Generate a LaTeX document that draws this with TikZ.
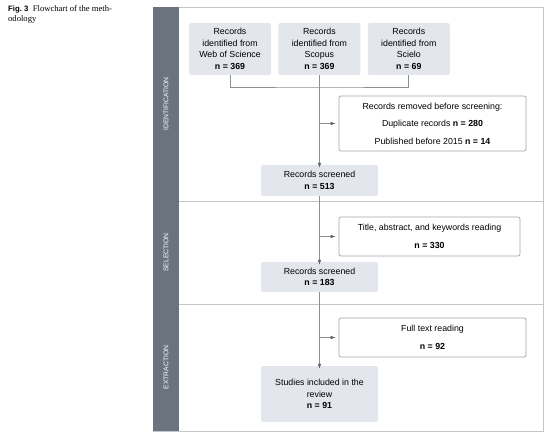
\documentclass[tikz,border=0pt]{standalone}
\usepackage{fontspec}
\setmainfont{Liberation Serif}
\setsansfont{Liberation Sans}
\usepackage{tikz}
\usetikzlibrary{arrows.meta,positioning,calc}
\definecolor{boxfill}{HTML}{E3E7ED}
\definecolor{bandgray}{HTML}{6B737F}
\definecolor{framegray}{HTML}{C4C6CA}
\definecolor{notegray}{HTML}{A2A5AA}
\definecolor{wiregray}{HTML}{8C8F93}
\definecolor{tipgray}{HTML}{5E6166}

\begin{document}
\begin{tikzpicture}[
    x=1pt, y=-1pt,
    box/.style={rectangle, fill=boxfill, rounded corners=2pt, align=center, inner sep=0pt,
        font=\sffamily\fontsize{8.8}{11.5}\selectfont},
    note/.style={rectangle, draw=notegray, line width=0.7pt, fill=white, rounded corners=2pt,
        align=center, inner sep=0pt, font=\sffamily\fontsize{8.8}{11.5}\selectfont},
    lane/.style={rotate=90, text=white, font=\sffamily\fontsize{6.8}{8}\selectfont},
    arrow/.style={-{Latex[length=5pt,width=3.6pt,fill=tipgray,color=tipgray]}, wiregray, line width=0.7pt},
    wire/.style={wiregray, line width=0.7pt}
]
    \useasboundingbox (0,0) rectangle (554,438);

    \node[anchor=north west, align=left, inner sep=0pt, font=\fontsize{8.6}{10.5}\selectfont]
        (caption) at (8,5) {{\sffamily\bfseries\fontsize{7.8}{10.5}\selectfont Fig.~3}\enspace Flowchart of the meth-\\odology};

    \draw[framegray, line width=0.8pt] (153,7) rectangle (543,431);
    \fill[bandgray] (153,7) rectangle (179,431);
    \draw[framegray, line width=0.8pt] (179,201) -- (543,201);
    \draw[framegray, line width=0.8pt] (179,304) -- (543,304);

    \node[lane] (identification) at (166,104) {IDENTIFICATION};
    \node[lane] (selection) at (166,252.5) {SELECTION};
    \node[lane] (extraction) at (166,367.5) {EXTRACTION};

    \node[box, minimum width=82, minimum height=52] (wos) at (230,49)
        {Records\\identified from\\Web of Science\\\textbf{n = 369}};
    \node[box, minimum width=82, minimum height=52, right=7 of wos] (scopus)
        {Records\\identified from\\Scopus\\\textbf{n = 369}};
    \node[box, minimum width=82, minimum height=52, right=7 of scopus] (scielo)
        {Records\\identified from\\Scielo\\\textbf{n = 69}};

    \node[note, minimum width=187, minimum height=55] (removed) at (432.5,123.5)
        {Records removed before screening:\\[6pt]Duplicate records \textbf{n = 280}\\[6pt]Published before 2015 \textbf{n = 14}};
    \node[box, minimum width=117, minimum height=31] (screened1) at (319.5,180.5)
        {Records screened\\\textbf{n = 513}};

    \node[note, minimum width=181, minimum height=39] (reading) at (429.5,236.5)
        {Title, abstract, and keywords reading\\[7pt]\textbf{n = 330}};
    \node[box, minimum width=117, minimum height=30] (screened2) at (319.5,277)
        {Records screened\\\textbf{n = 183}};

    \node[note, minimum width=187, minimum height=39] (fulltext) at (432.5,337.5)
        {Full text reading\\[7pt]\textbf{n = 92}};
    \node[box, minimum width=117, minimum height=56] (included) at (319.5,394)
        {Studies included in the\\review\\\textbf{n = 91}};

    \coordinate (merge) at (319.5,87);
    \draw[wire] (wos.south) |- (merge) -| (scielo.south);
    \draw[arrow] (scopus.south) -- ([yshift=-3]screened1.north);
    \draw[arrow] (scopus.south |- removed.west) -- ([xshift=-3]removed.west);

    \draw[arrow] (screened1.south) -- ([yshift=-3]screened2.north);
    \draw[arrow] (screened1.south |- reading.west) -- ([xshift=-3]reading.west);

    \draw[arrow] (screened2.south) -- ([yshift=-3]included.north);
    \draw[arrow] (screened2.south |- fulltext.west) -- ([xshift=-3]fulltext.west);
\end{tikzpicture}
\end{document}
